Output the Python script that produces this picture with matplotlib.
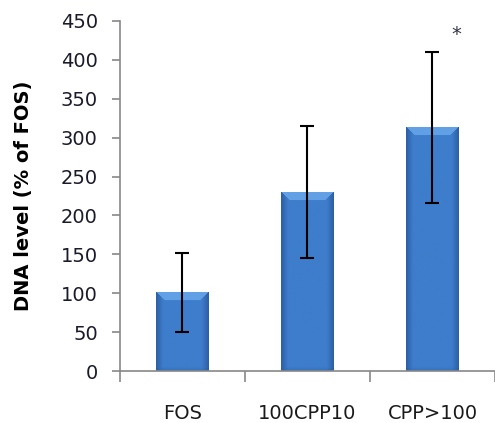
import numpy as np
import matplotlib
matplotlib.use('Agg')
import matplotlib.pyplot as plt

# DNA level per group, % of FOS
groups = ['FOS', '100CPP10', 'CPP>100']
means = [101, 230, 313]
errs = [51, 85, 97]
star = ['', '', '*']

plt.rcParams['font.family'] = ['DejaVu Sans']

fig = plt.figure(figsize=(4.95, 4.23), dpi=100)
ax = fig.add_axes([0.2424, 0.1229, 0.7576, 0.8275])

x = np.arange(len(groups))
bars = ax.bar(x, means, width=0.42, color='#3E7DCB', edgecolor='none', zorder=2)

# bevelled shading for the bars (Excel look)
base = np.array([0x3E, 0x7D, 0xCB]) / 255.0
dark = np.array([0x2C, 0x5E, 0xA3]) / 255.0
light = np.array([0x62, 0xA0, 0xE6]) / 255.0
ppu = 350 / 450.0   # pixels per y unit
for b in bars:
    bx, by = b.get_x(), b.get_y()
    w, h = b.get_width(), b.get_height()
    nx, ny = 52, max(int(h * ppu), 2)
    cx = np.arange(nx) + 0.5
    cy = np.arange(ny) + 0.5
    X, Y = np.meshgrid(cx, cy)          # Y from top
    side = np.minimum(X, nx - X)
    img = np.tile(base, (ny, nx, 1))
    t = np.clip(1 - side / 7.0, 0, 1)[..., None]
    img = img * (1 - t) + dark * t
    bev = ((Y < 8) & (Y < side))[..., None]
    img = np.where(bev, light, img)
    bot = np.clip(1 - (ny - Y) / 4.0, 0, 1)[..., None]
    img = img * (1 - 0.5 * bot) + dark * 0.5 * bot
    ax.imshow(img, extent=[bx, bx + w, by, by + h], aspect='auto', zorder=2.5,
              interpolation='bilinear')

ax.errorbar(x, means, yerr=errs, fmt='none', ecolor='black', elinewidth=1.5,
            capsize=5, capthick=1.5, zorder=3)

for xi, m, e, s in zip(x, means, errs, star):
    if s:
        ax.text(xi + 0.19, m + e + 22, s, ha='center', va='center', fontsize=14,
                color='#333344')

ax.set_xlim(-0.5, 2.5)
ax.set_ylim(0, 450)
ax.set_yticks(np.arange(0, 451, 50))
ax.set_xticks([-0.5, 0.5, 1.5, 2.5])
ax.set_xticklabels([])
ax.set_xticks(x, minor=True)
ax.set_xticklabels(groups, minor=True)
ax.tick_params(axis='x', which='minor', length=0, pad=24, labelsize=14,
               labelcolor='#1a1a1a')
ax.tick_params(axis='x', which='major', length=8, color='#888888', width=1.2)
ax.tick_params(axis='y', length=6, color='#888888', width=1.2, labelsize=14,
               labelcolor='#1a1a2a', pad=10)

for sp in ['top', 'right']:
    ax.spines[sp].set_visible(False)
for sp in ['left', 'bottom']:
    ax.spines[sp].set_color('#888888')
    ax.spines[sp].set_linewidth(1.2)

ax.set_ylabel('DNA level (% of FOS)', fontsize=14, fontweight='bold')
ax.yaxis.set_label_coords(-0.232, 0.5)

fig.savefig('out.png', dpi=100)
